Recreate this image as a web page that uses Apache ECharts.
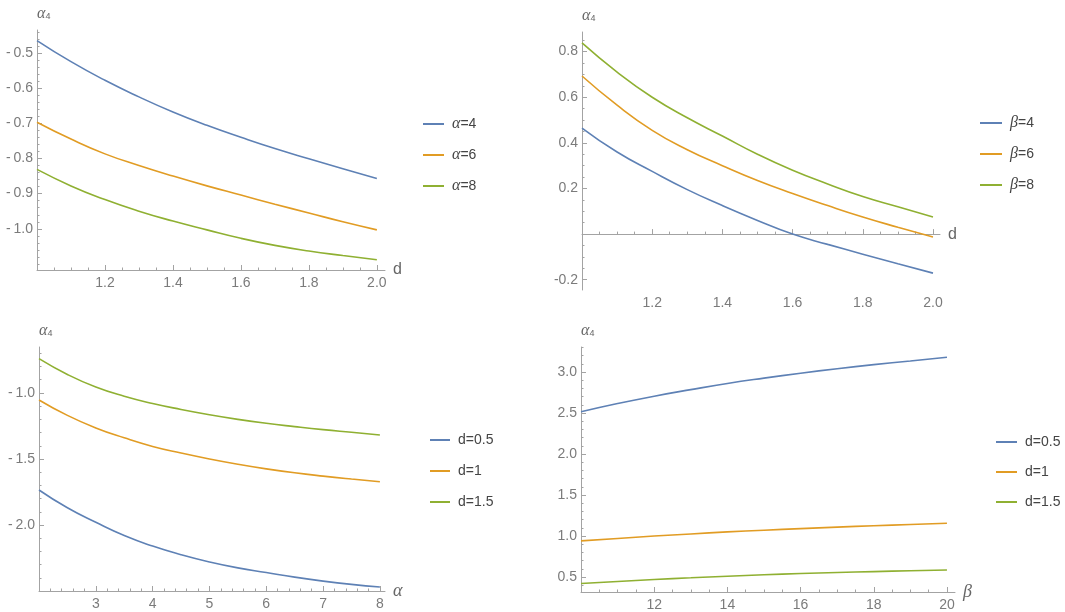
<!DOCTYPE html>
<html>
<head>
<meta charset="utf-8">
<script src="https://cdn.jsdelivr.net/npm/echarts@6/dist/echarts.min.js"></script>
<style>
  html, body { margin: 0; padding: 0; background: #fff; }
  #myChart { width: 1065px; height: 612px; }
</style>
</head>
<body>
<div id="myChart"></div>
<script>
// panel 1: alpha4 vs d, for alpha = 4, 6, 8
const dVals = [1.0, 1.1, 1.2, 1.3, 1.4, 1.5, 1.6, 1.7, 1.8, 1.9, 2.0];
const p1Alpha4 = [-0.465, -0.525, -0.578, -0.625, -0.668, -0.706, -0.740, -0.772, -0.801, -0.829, -0.857];
const p1Alpha6 = [-0.697, -0.745, -0.787, -0.820, -0.850, -0.878, -0.904, -0.930, -0.955, -0.980, -1.003];
const p1Alpha8 = [-0.831, -0.878, -0.917, -0.950, -0.978, -1.003, -1.027, -1.047, -1.063, -1.076, -1.088];

// panel 2: alpha4 vs d, for beta = 4, 6, 8
const p2Beta4 = [0.465, 0.360, 0.275, 0.195, 0.125, 0.060, 0.000, -0.045, -0.088, -0.130, -0.171];
const p2Beta6 = [0.693, 0.565, 0.455, 0.370, 0.300, 0.235, 0.178, 0.125, 0.075, 0.030, -0.013];
const p2Beta8 = [0.838, 0.710, 0.600, 0.510, 0.430, 0.350, 0.280, 0.220, 0.165, 0.120, 0.075];

// panel 3: alpha4 vs alpha, for d = 0.5, 1, 1.5
const alphaVals = [2, 2.5, 3, 3.5, 4, 4.5, 5, 5.5, 6, 6.5, 7, 7.5, 8];
const p3D05 = [-1.735, -1.870, -1.980, -2.080, -2.160, -2.225, -2.280, -2.325, -2.360, -2.395, -2.425, -2.450, -2.470];
const p3D1 = [-1.053, -1.170, -1.265, -1.340, -1.405, -1.455, -1.500, -1.540, -1.575, -1.605, -1.630, -1.652, -1.672];
const p3D15 = [-0.740, -0.860, -0.955, -1.025, -1.080, -1.125, -1.165, -1.200, -1.230, -1.255, -1.278, -1.298, -1.318];

// panel 4: alpha4 vs beta, for d = 0.5, 1, 1.5
const betaVals = [10, 11, 12, 13, 14, 15, 16, 17, 18, 19, 20];
const p4D05 = [2.515, 2.615, 2.705, 2.785, 2.860, 2.925, 2.985, 3.040, 3.090, 3.135, 3.180];
const p4D1 = [0.940, 0.970, 1.000, 1.025, 1.050, 1.070, 1.090, 1.108, 1.125, 1.140, 1.155];
const p4D15 = [0.420, 0.445, 0.470, 0.490, 0.510, 0.527, 0.542, 0.555, 0.566, 0.576, 0.585];

// tick labels
const p1XTicks = [1.2, 1.4, 1.6, 1.8, 2.0];
const p1YTicks = [-0.5, -0.6, -0.7, -0.8, -0.9, -1.0];
const p2XTicks = [1.2, 1.4, 1.6, 1.8, 2.0];
const p2YTicks = [-0.2, 0.2, 0.4, 0.6, 0.8];
const p3XTicks = [3, 4, 5, 6, 7, 8];
const p3YTicks = [-2.0, -1.5, -1.0];
const p4XTicks = [12, 14, 16, 18, 20];
const p4YTicks = [0.5, 1.0, 1.5, 2.0, 2.5, 3.0];

const colors = ["#5E81B5", "#E19C24", "#8FB032"];
const axisColor = "#a3a3a3";
const labelColor = "#7b7b7b";
const font = "Liberation Sans";

function minorTicks(min, max, step) {
  let out = [];
  let start = Math.ceil(min / step) * step;
  for (let v = start; v <= max + 1e-9; v += step) {
    out.push(Math.round(v * 10000) / 10000);
  }
  return out;
}

function fmt(v, dec, gap) {
  let s = Math.abs(v).toFixed(dec);
  return v < 0 ? "-" + gap + s : s;
}

let myChart = echarts.init(document.getElementById("myChart"));

const panels = [
  { grid: [37, 30, 348, 240], x: [1.0, 2.024], y: [-1.117, -0.435], xt: p1XTicks, yt: p1YTicks,
    xm: 0.05, ym: 0.02, xd: 1, yd: 1, gap: "\u2009", xname: "d", xItalic: false, onZero: false,
    xs: dVals, series: [["α=4", p1Alpha4], ["α=6", p1Alpha6], ["α=8", p1Alpha8]],
    legend: [418, 111, 21, 15] },
  { grid: [582, 32, 358, 258], x: [1.0, 2.02], y: [-0.245, 0.886], xt: p2XTicks, yt: p2YTicks,
    xm: 0.05, ym: 0.05, xd: 1, yd: 1, gap: "", xname: "d", xItalic: false, onZero: true,
    xs: dVals, series: [["β=4", p2Beta4], ["β=6", p2Beta6], ["β=8", p2Beta8]],
    legend: [975, 110, 22, 15] },
  { grid: [39, 347, 346, 244], x: [2, 8.09], y: [-2.5, -0.652], xt: p3XTicks, yt: p3YTicks,
    xm: 0.2, ym: 0.1, xd: 0, yd: 1, gap: "\u2009", xname: "α", xItalic: true, onZero: false,
    xs: alphaVals, series: [["d=0.5", p3D05], ["d=1", p3D1], ["d=1.5", p3D15]],
    legend: [425, 428, 20, 17] },
  { grid: [581, 347, 374, 245], x: [10, 20.22], y: [0.317, 3.305], xt: p4XTicks, yt: p4YTicks,
    xm: 0.5, ym: 0.1, xd: 0, yd: 1, gap: "", xname: "β", xItalic: true, onZero: false,
    xs: betaVals, series: [["d=0.5", p4D05], ["d=1", p4D1], ["d=1.5", p4D15]],
    legend: [991, 430, 21, 16] }
];

let grids = [], xAxes = [], yAxes = [], series = [], legends = [];

panels.forEach(function (p, i) {
  grids.push({ left: p.grid[0], top: p.grid[1], width: p.grid[2], height: p.grid[3], outerBoundsMode: "none" });

  // major axes with labels
  xAxes.push({
    type: "value", gridIndex: i, position: "bottom", min: p.x[0], max: p.x[1],
    name: p.xItalic ? "{i|" + p.xname + "}" : p.xname, nameLocation: "end", nameGap: 8,
    nameTextStyle: { color: "#666", fontFamily: font, fontSize: 16,
      rich: { i: { fontFamily: "Liberation Serif", fontStyle: "italic", fontSize: 18, color: "#666" } } },
    axisLine: { onZero: p.onZero, lineStyle: { color: axisColor, width: 1 } },
    axisTick: { inside: true, length: 5, customValues: p.xt, lineStyle: { color: axisColor } },
    axisLabel: { customValues: p.xt, color: labelColor, fontFamily: font, fontSize: 14, margin: 6,
      formatter: function (v) { return fmt(v, p.xd, p.gap); } },
    splitLine: { show: false }
  });
  // minor ticks
  xAxes.push({
    type: "value", gridIndex: i, position: "bottom", min: p.x[0], max: p.x[1],
    axisLine: { show: false, onZero: p.onZero },
    axisTick: { inside: true, length: 2.5, customValues: minorTicks(p.x[0], p.x[1], p.xm), lineStyle: { color: axisColor } },
    axisLabel: { show: false }, splitLine: { show: false }
  });

  yAxes.push({
    type: "value", gridIndex: i, position: "left", min: p.y[0], max: p.y[1],
    name: "{a|α}{s|4}", nameLocation: "end", nameGap: 8,
    nameTextStyle: { align: "left", color: "#666",
      rich: {
        a: { fontFamily: "Liberation Serif", fontStyle: "italic", fontSize: 16, color: "#666" },
        s: { fontFamily: "Liberation Sans", fontSize: 9, color: "#666", padding: [5, 0, 0, 0] }
      } },
    axisLine: { onZero: false, lineStyle: { color: axisColor, width: 1 } },
    axisTick: { inside: true, length: 5, customValues: p.yt, lineStyle: { color: axisColor } },
    axisLabel: { customValues: p.yt, color: labelColor, fontFamily: font, fontSize: 14, margin: 4,
      formatter: function (v) { return fmt(v, p.yd, p.gap); } },
    splitLine: { show: false }
  });
  yAxes.push({
    type: "value", gridIndex: i, position: "left", min: p.y[0], max: p.y[1],
    axisLine: { show: false, onZero: false },
    axisTick: { inside: true, length: 2.5, customValues: minorTicks(p.y[0], p.y[1], p.ym), lineStyle: { color: axisColor } },
    axisLabel: { show: false }, splitLine: { show: false }
  });

  p.series.forEach(function (s, k) {
    series.push({
      name: s[0], type: "line", xAxisIndex: 2 * i, yAxisIndex: 2 * i,
      data: p.xs.map(function (x, j) { return [x, s[1][j]]; }),
      smooth: true, symbol: "none", color: colors[k],
      lineStyle: { width: 1.6, color: colors[k] }
    });
  });

  legends.push({
    orient: "vertical", left: p.legend[0], top: p.legend[1],
    icon: "rect", itemWidth: p.legend[2], itemHeight: 2, itemGap: p.legend[3],
    data: p.series.map(function (s) { return s[0]; }),
    selectedMode: false,
    formatter: function (name) { return name.replace(/^([αβ])/, "{g|$1}"); },
    textStyle: { color: "#444", fontFamily: font, fontSize: 14, lineHeight: 14, padding: [0, 0, 0, 3],
      rich: { g: { fontFamily: "Liberation Serif", fontStyle: "italic", fontSize: 16, lineHeight: 14, color: "#444" } } }
  });
});

let option = {
  animation: false,
  backgroundColor: "#fff",
  grid: grids,
  xAxis: xAxes,
  yAxis: yAxes,
  legend: legends,
  series: series
};

myChart.setOption(option);
</script>
</body>
</html>
